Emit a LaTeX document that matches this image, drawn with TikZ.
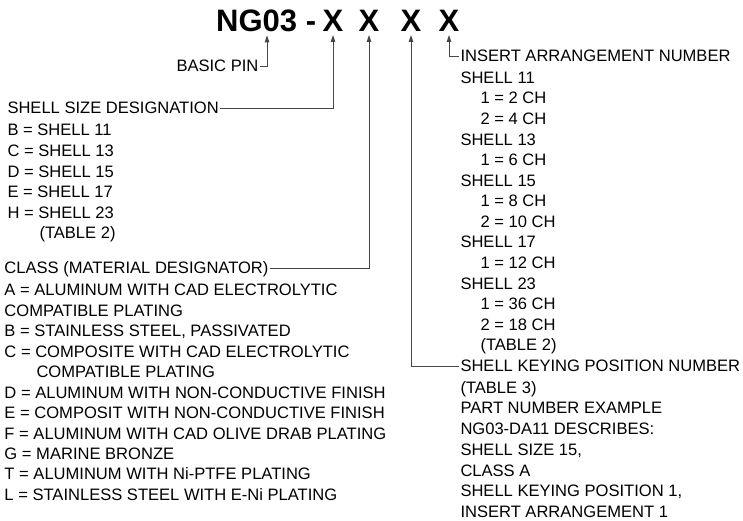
\documentclass[tikz,border=0pt]{standalone}
\usepackage{fontspec}
\setmainfont{Liberation Sans}
\usetikzlibrary{arrows.meta,calc}
\tikzset{
  txt/.style={anchor=west,inner sep=0pt,outer sep=1.5pt,text height=11.8pt,text depth=0pt,
    font=\fontsize{16.55}{19}\selectfont,text=black},
  ttl/.style={anchor=base,inner sep=0pt,outer ysep=3pt,font=\fontsize{31}{31}\selectfont\bfseries,text=black},
  arr/.style={draw=black!72,line width=0.9pt,-{Triangle[length=7pt,width=4.5pt]}},
}
\begin{document}
\begin{tikzpicture}[x=1pt,y=-1pt]
\useasboundingbox (0,0) rectangle (743,521);
% title
\node[ttl,anchor=base west] (ng) at (216,32) {NG03};
\node[ttl] (dash) at (311,32) {-};
\node[ttl] (x1) at (333,32) {X};
\node[ttl] (x2) at (369,32) {X};
\node[ttl] (x3) at (411,32) {X};
\node[ttl] (x4) at (449,32) {X};
% headers
\node[txt] (basic) at (175,66) {BASIC PIN};
\node[txt] (shellsize) at (6,108) {SHELL SIZE DESIGNATION};
\node[txt] (class) at (3,268) {CLASS (MATERIAL DESIGNATOR)};
\node[txt] (insert) at (459,56) {INSERT ARRANGEMENT NUMBER};
\node[txt] (keying) at (459,366) {SHELL KEYING POSITION NUMBER};
% left lists
\foreach \y/\x/\t [count=\i] in {130/6/{B = SHELL 11},150.6/6/{C = SHELL 13},171.2/6/{D = SHELL 15},
  191.8/6/{E = SHELL 17},212.4/6/{H = SHELL 23},233/38/{(TABLE 2)}}
  \node[txt] (ss\i) at (\x,\y) {\t};
\foreach \y/\x/\t [count=\i] in {290/3/{A = ALUMINUM WITH CAD ELECTROLYTIC},310.5/3/{COMPATIBLE PLATING},
  330.9/3/{B = STAINLESS STEEL, PASSIVATED},351.4/3/{C = COMPOSITE WITH CAD ELECTROLYTIC},
  371.8/35/{COMPATIBLE PLATING},392.3/3/{D = ALUMINUM WITH NON-CONDUCTIVE FINISH},
  412.7/3/{E = COMPOSIT WITH NON-CONDUCTIVE FINISH},433.2/3/{F = ALUMINUM WITH CAD OLIVE DRAB PLATING},
  453.6/3/{G = MARINE BRONZE},474/3/{T = ALUMINUM WITH Ni-PTFE PLATING},
  494.5/3/{L = STAINLESS STEEL WITH E-Ni PLATING}}
  \node[txt] (cl\i) at (\x,\y) {\t};
% right lists
\foreach \y/\x/\t [count=\i] in {77.3/459/{SHELL 11},98/479/{1 = 2 CH},118.3/479/{2 = 4 CH},
  139.3/459/{SHELL 13},160/479/{1 = 6 CH},180.3/459/{SHELL 15},201/479/{1 = 8 CH},221.5/479/{2 = 10 CH},
  242/459/{SHELL 17},262.7/479/{1 = 12 CH},283.7/459/{SHELL 23},304/479/{1 = 36 CH},324.3/479/{2 = 18 CH},
  345/479/{(TABLE 2)}}
  \node[txt] (ia\i) at (\x,\y) {\t};
\foreach \y/\t [count=\i] in {387.5/{(TABLE 3)},408/{PART NUMBER EXAMPLE},429/{NG03-DA11 DESCRIBES:},
  449.5/{SHELL SIZE 15,},470.3/{CLASS A},490.7/{SHELL KEYING POSITION 1,},511.3/{INSERT ARRANGEMENT 1}}
  \node[txt] (kp\i) at (459,\y) {\t};
% connectors
\draw[arr] (basic.east) -| ($(ng.south west)+(51,0)$);
\draw[arr] (shellsize.east) -| (x1.south);
\draw[arr] (class.east) -| (x2.south);
\draw[arr] (keying.west) -| (x3.south);
\draw[arr] (insert.west) -| (x4.south);
\end{tikzpicture}
\end{document}
